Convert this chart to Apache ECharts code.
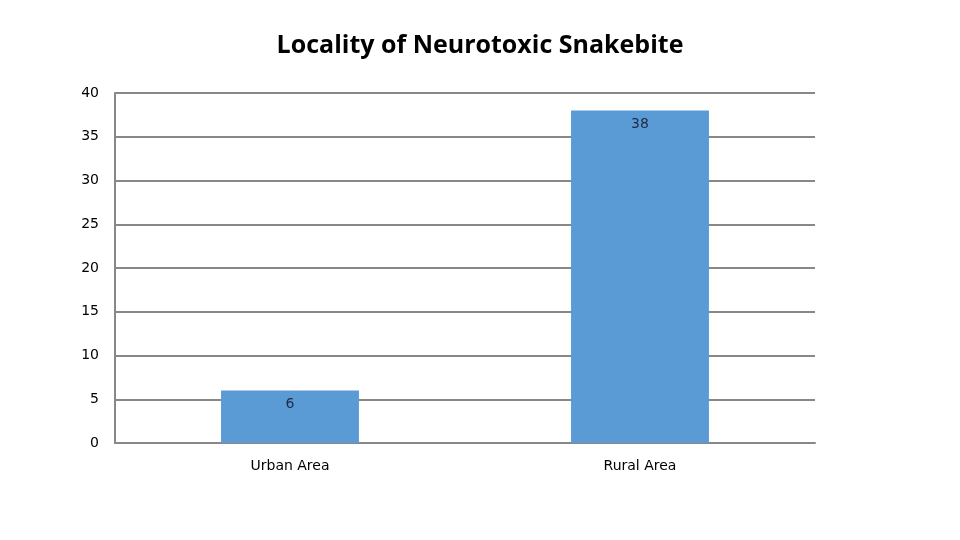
<!DOCTYPE html>
<html><head><meta charset="utf-8">
<script src="https://cdn.jsdelivr.net/npm/echarts@6/dist/echarts.min.js"></script>
<style>html,body{margin:0;padding:0;background:#fff}#c{width:960px;height:540px}</style>
</head><body><div id="c"></div>
<script>
const categories = ["Urban Area", "Rural Area"];
const values = [6, 38];
const FONT = "'Liberation Sans Narrow', 'Open Sans', sans-serif";
const chart = echarts.init(document.getElementById('c'));
chart.setOption({
  animation: false,
  title: {
    text: "Locality of Neurotoxic Snakebite",
    left: 'center', top: 28,
    textStyle: {fontFamily: FONT, fontSize: 25, fontWeight: 'bold', color: '#000'}
  },
  grid: {left: 115, right: 145, top: 93, bottom: 97},
  xAxis: {
    type: 'category', data: categories,
    axisLine: {lineStyle: {color: '#888', width: 2}},
    axisTick: {show: false},
    axisLabel: {fontFamily: "'DejaVu Sans', sans-serif", fontSize: 14, color: '#000', margin: 16}
  },
  yAxis: {
    type: 'value', min: 0, max: 40, interval: 5,
    axisLine: {show: true, lineStyle: {color: '#888', width: 2}},
    axisTick: {show: false},
    splitLine: {lineStyle: {color: '#888', width: 2}},
    axisLabel: {fontFamily: "'DejaVu Sans', sans-serif", fontSize: 14, color: '#000', margin: 16, padding: [4, 0, 0, 0]}
  },
  series: [{
    type: 'bar', data: values, barWidth: '39.4%',
    itemStyle: {color: '#5B9BD5'},
    label: {show: true, position: 'insideTop', distance: 7, fontFamily: "'DejaVu Sans', sans-serif", fontSize: 14, color: '#1f2a44'}
  }]
});
</script></body></html>
